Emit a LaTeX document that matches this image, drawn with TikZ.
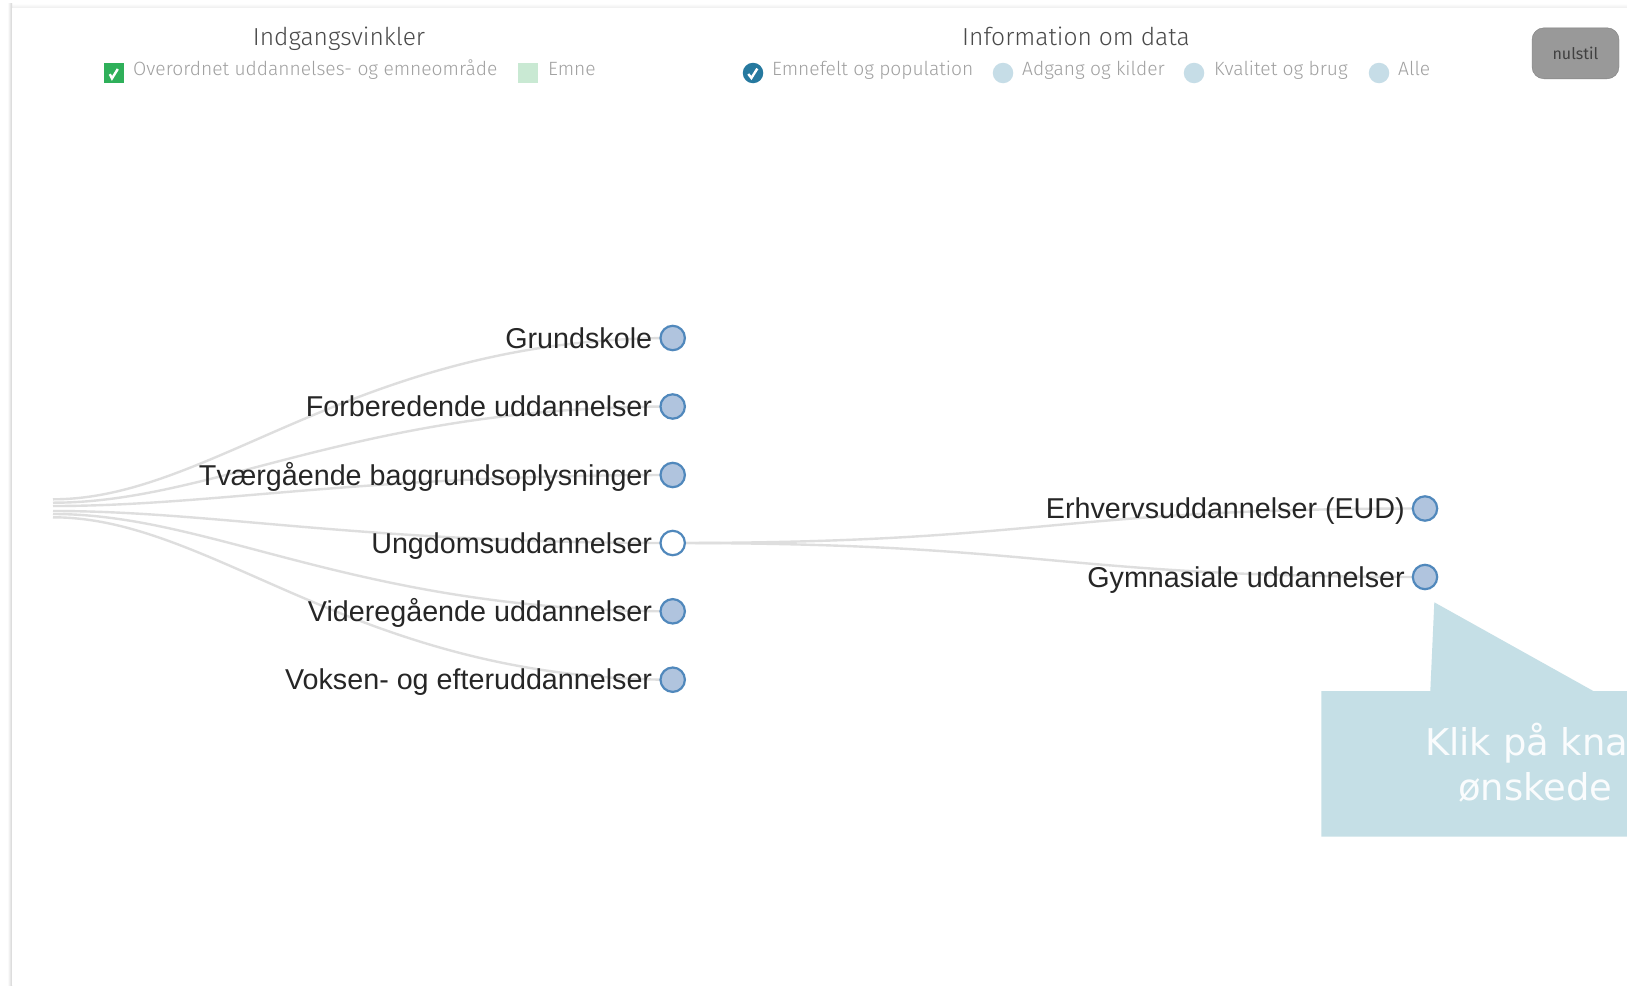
\documentclass[tikz,border=0pt]{standalone}
\usepackage{fontspec}
\setmainfont{Liberation Sans}
\newfontfamily\headfont{Fira Sans}[UprightFont=* Light]
\newfontfamily\btnfont{Fira Sans}
\newfontfamily\dejafont{DejaVu Sans}
\usetikzlibrary{calc}
\pgfdeclarelayer{back}
\pgfsetlayers{back,main}
\definecolor{linkgray}{HTML}{DEDEDE}
\definecolor{nodefill}{HTML}{B0C4DE}
\definecolor{noderim}{HTML}{5088BC}
\definecolor{headgray}{HTML}{4A4A4A}
\definecolor{itemgray}{HTML}{A0A0A0}
\definecolor{okgreen}{HTML}{2FB05A}
\definecolor{palegreen}{HTML}{C9E9D3}
\definecolor{okblue}{HTML}{26799F}
\definecolor{paleblue}{HTML}{C6DDE7}
\definecolor{callout}{HTML}{C5DFE6}
\tikzset{
  x=1pt,y=-1pt,
  treedot/.style={circle,draw=noderim,fill=nodefill,line width=2.2pt,minimum size=24.4pt,inner sep=0pt},
  opendot/.style={treedot,fill=white},
  treelabel/.style={font=\fontsize{28.7}{29}\selectfont,text=black!85,anchor=base east,inner sep=0pt},
  linkline/.style={draw=linkgray,line width=2.4pt},
  headtext/.style={font=\headfont\fontsize{24.6}{25}\selectfont,text=headgray,inner sep=0pt,anchor=base},
  itemtext/.style={font=\headfont\fontsize{19.2}{20}\selectfont,text=itemgray,inner sep=0pt,anchor=base west},
  squarebox/.style={minimum size=20.5pt,inner sep=0pt},
  rounddot/.style={circle,minimum size=20.5pt,inner sep=0pt},
  tickline/.style={draw=white,line width=2.4pt},
  calltext/.style={font=\dejafont\fontsize{36.9}{38}\selectfont,text=white!92!callout,inner sep=0pt,anchor=base west},
}
\newcommand{\rootlink}[2]{%
  \draw[linkline] let \p1=(#1), \p2=(#2) in (\p1) .. controls ({\x1+0.26*(\x2-\x1)},\y1) and ({\x1+0.49*(\x2-\x1)},\y2) .. (\p2);}
\newcommand{\treelink}[2]{%
  \coordinate (tmpmid) at ($(#1)!.5!(#2)$);
  \draw[linkline] (#1) .. controls (tmpmid|-#1) and (tmpmid|-#2) .. (#2);}
\begin{document}
\begin{tikzpicture}
\useasboundingbox (0,0) rectangle (1627,985);
% card
\begin{pgfonlayer}{back}
\fill[white] (0,0) rectangle (1627,985);
\shade[top color=white,bottom color=black!7] (8,3.5) rectangle (1627,8);
\shade[left color=white,right color=black!17] (7.5,3.5) rectangle (12,985);
\fill[white] (12,8) rectangle (1627,985);
\end{pgfonlayer}
% legend
\node[headtext] (h1) at (339,45) {Indgangsvinkler};
\node[headtext] (h2) at (1076,45) {Information om data};
\node[squarebox,fill=okgreen] (s1) at (114,73) {};
\draw[tickline] ($(s1)+(-4.2,1.2)$) -- ($(s1)+(-2,5.4)$) -- ($(s1)+(3.8,-4)$);
\node[itemtext] (t1) at (133,75) {Overordnet uddannelses- og emneområde};
\node[squarebox,fill=palegreen] (s2) at (528,73) {};
\node[itemtext] (t2) at (548,75) {Emne};
\node[rounddot,fill=okblue] (d1) at (753,73) {};
\draw[tickline] ($(d1)+(-4.7,1)$) -- ($(d1)+(-1.6,5)$) -- ($(d1)+(4.3,-4.4)$);
\node[itemtext] (t3) at (772,75) {Emnefelt og population};
\node[rounddot,fill=paleblue] (d2) at (1003,73) {};
\node[itemtext] (t4) at (1022,75) {Adgang og kilder};
\node[rounddot,fill=paleblue] (d3) at (1194,73) {};
\node[itemtext] (t5) at (1214,75) {Kvalitet og brug};
\node[rounddot,fill=paleblue] (d4) at (1379,73) {};
\node[itemtext] (t6) at (1398,75) {Alle};
\node[draw=black!50,fill=black!40,rounded corners=12pt,minimum width=87pt,minimum height=51pt,inner sep=0pt,
  font=\btnfont\fontsize{16}{16}\selectfont,text=black!75] (reset) at (1575.5,53.3) {nulstil};
% tree
\coordinate (r1) at (53,499.3);
\coordinate (r2) at (53,502.7);
\coordinate (r3) at (53,506);
\coordinate (r4) at (53,511);
\coordinate (r5) at (53,514);
\coordinate (r6) at (53,517.3);
\node[treedot] (c1) at (672.7,338) {};
\node[treedot] (c2) at (672.7,406.5) {};
\node[treedot] (c3) at (672.7,475) {};
\node[opendot] (c4) at (672.7,543) {};
\node[treedot] (c5) at (672.7,611.3) {};
\node[treedot] (c6) at (672.7,679.7) {};
\node[treedot] (e1) at (1425,508.5) {};
\node[treedot] (e2) at (1425,577) {};
\node[treelabel] (l1) at (652.3,348) {Grundskole};
\node[treelabel] (l2) at (652.3,416.5) {Forberedende uddannelser};
\node[treelabel] (l3) at (652.3,485) {Tværgående baggrundsoplysninger};
\node[treelabel] (l4) at (652.3,553) {Ungdomsuddannelser};
\node[treelabel] (l5) at (652.3,621.3) {Videregående uddannelser};
\node[treelabel] (l6) at (652.3,689.7) {Voksen- og efteruddannelser};
\node[treelabel] (l7) at (1405,518.5) {Erhvervsuddannelser (EUD)};
\node[treelabel] (l8) at (1405,587) {Gymnasiale uddannelser};
\begin{pgfonlayer}{back}
\rootlink{r1}{c1.center}
\rootlink{r2}{c2.center}
\rootlink{r3}{c3.center}
\rootlink{r4}{c4.center}
\rootlink{r5}{c5.center}
\rootlink{r6}{c6.center}
\treelink{c4.center}{e1.center}
\treelink{c4.center}{e2.center}
\end{pgfonlayer}
% callout
\coordinate (ca) at (1321.3,691);
\coordinate (cb) at (1430.3,691);
\coordinate (cc) at (1434.3,602.3);
\coordinate (cd) at (1593.3,691);
\coordinate (ce) at (1627,691);
\coordinate (cf) at (1627,836.7);
\coordinate (cg) at (1321.3,836.7);
\fill[callout] (ca) -- (cb) -- (cc) -- (cd) -- (ce) -- (cf) -- (cg) -- cycle;
\node[calltext] (k1) at (1425,755.5) {Klik på kna};
\node[calltext] (k2) at (1458,800.5) {ønskede};
\end{tikzpicture}
\end{document}
